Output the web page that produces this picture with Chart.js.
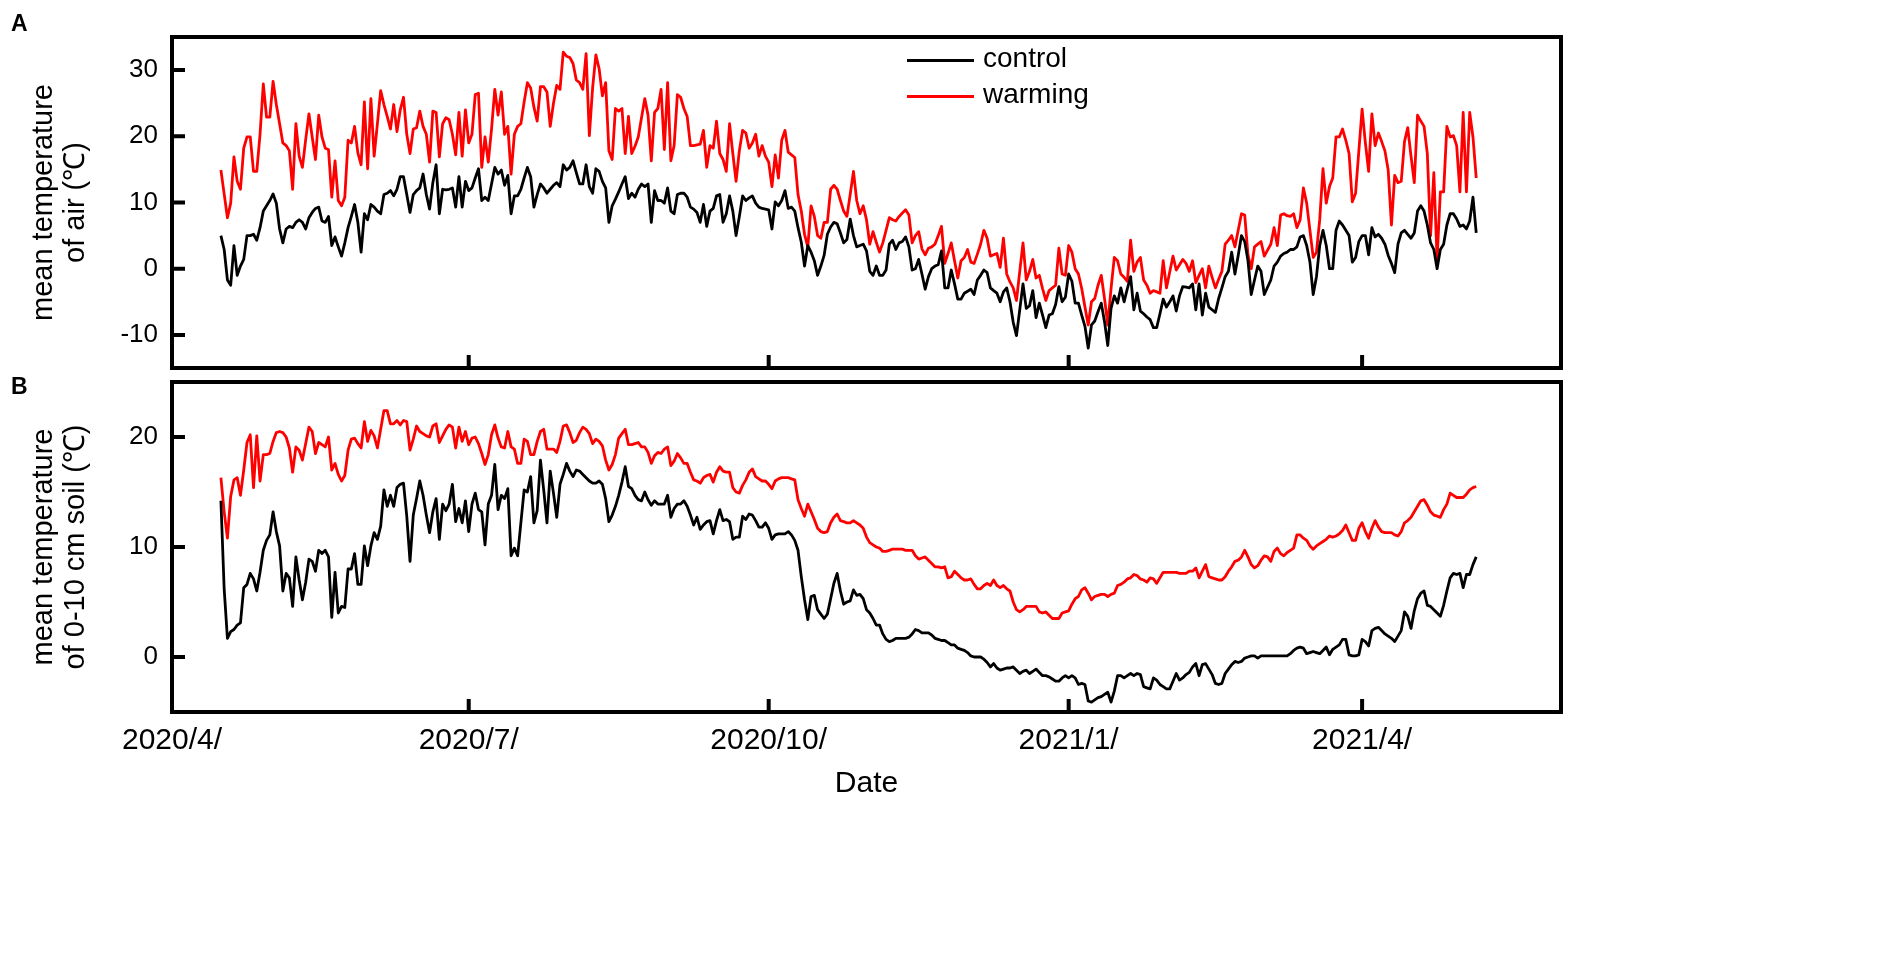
<!DOCTYPE html>
<html>
<head>
<meta charset="utf-8">
<script src="https://cdn.jsdelivr.net/npm/chart.js@4.4.1/dist/chart.umd.min.js"></script>
<style>
  body { margin: 0; background: #fff; width: 1904px; height: 971px; overflow: hidden;
         font-family: "Liberation Sans", Arial, sans-serif; color: #000; }
  canvas { position: absolute; left: 0; top: 0; }
  .tag { position: absolute; font-weight: bold; font-size: 23px; }
  .legend { position: absolute; left: 907px; font-size: 28px; }
  .legend span { position: absolute; left: 0; width: 67px; height: 3px; }
  .legend b { position: absolute; left: 76px; font-weight: normal; white-space: nowrap; }
</style>
</head>
<body>
<canvas id="airChart" width="1904" height="971"></canvas>
<canvas id="soilChart" width="1904" height="971"></canvas>

<div class="tag" style="left:11px;top:10px">A</div>
<div class="tag" style="left:11px;top:373px">B</div>

<div class="legend" style="top:59px"><span style="background:#000"></span><b style="top:-17px">control</b></div>
<div class="legend" style="top:95px"><span style="background:#f00"></span><b style="top:-17px">warming</b></div>

<script>
// ---------------------------------------------- data ----------------------------------------------
// days counted from 2020/4/1, one value per day, first value is day 15 (2020/4/16)
const firstDay = 15;

const xTicks = [0, 91, 183, 275, 365];
const xTickLabels = ['2020/4/', '2020/7/', '2020/10/', '2021/1/', '2021/4/'];
const airTicks = [-10, 0, 10, 20, 30];
const soilTicks = [0, 10, 20];

// mean temperature of air (℃)
const airControl = [
  5.0, 2.9, -1.7, -2.5, 3.5, -1.0, 0.4, 1.4, 5.0, 5.0,
  5.2, 4.3, 6.2, 8.7, 9.5, 10.3, 11.3, 9.9, 6.0, 3.9,
  6.0, 6.4, 6.2, 7.0, 7.4, 7.0, 6.0, 7.7, 8.5, 9.1,
  9.3, 7.2, 7.0, 7.9, 3.5, 4.8, 3.3, 1.9, 3.9, 6.2,
  7.9, 9.7, 7.0, 2.5, 8.3, 7.4, 9.7, 9.3, 8.7, 8.3,
  11.2, 11.4, 11.8, 11.0, 12.0, 13.9, 13.9, 11.2, 8.5, 11.2,
  11.8, 12.2, 14.3, 11.2, 9.0, 13.0, 15.7, 8.3, 12.0, 11.9,
  12.0, 12.2, 9.3, 13.9, 9.3, 13.2, 11.8, 12.2, 13.7, 15.1,
  10.3, 10.8, 10.3, 12.8, 15.3, 14.3, 14.9, 12.6, 14.1, 8.3,
  11.0, 11.0, 12.0, 13.7, 15.3, 13.9, 9.3, 11.2, 12.8, 12.2,
  11.4, 12.0, 12.6, 13.0, 12.4, 15.7, 14.9, 15.3, 16.3, 14.5,
  12.8, 12.8, 15.7, 12.4, 11.4, 15.1, 14.7, 13.2, 12.2, 7.0,
  9.5, 10.5, 11.6, 12.8, 13.9, 10.6, 11.4, 10.8, 12.0, 12.8,
  12.4, 12.8, 7.0, 11.8, 10.3, 10.3, 9.9, 12.2, 8.7, 8.3,
  11.2, 11.4, 11.4, 10.8, 9.3, 9.0, 8.5, 7.0, 9.7, 6.4,
  8.7, 9.1, 11.0, 11.2, 7.0, 8.3, 11.0, 8.7, 5.0, 7.9,
  11.0, 10.3, 10.7, 11.0, 9.9, 9.3, 9.1, 9.0, 8.9, 6.0,
  10.1, 9.5, 10.3, 11.8, 9.1, 9.3, 8.7, 6.2, 4.0, 0.4,
  3.5, 2.5, 1.2, -1.0, 0.4, 2.0, 5.2, 6.3, 7.0, 6.8,
  5.4, 3.9, 4.4, 7.5, 5.0, 3.3, 3.5, 3.7, 2.7, -0.4,
  -1.0, 0.4, -1.0, -1.0, -0.2, 3.7, 4.3, 2.9, 3.9, 4.1,
  4.8, 3.3, -0.2, 0.0, 1.4, -0.8, -3.1, -1.2, 0.0, 0.4,
  0.6, 2.7, -2.9, -2.9, -0.2, -2.3, -4.6, -4.6, -3.7, -3.4,
  -3.1, -3.9, -1.7, -1.0, -0.2, -0.6, -2.9, -3.3, -3.7, -5.0,
  -3.5, -2.9, -5.0, -8.1, -10.1, -6.2, -2.3, -6.0, -5.6, -3.3,
  -7.4, -5.2, -7.0, -8.9, -7.0, -6.8, -5.4, -2.7, -5.0, -4.3,
  -0.8, -1.9, -5.2, -5.2, -7.0, -8.7, -12.0, -8.5, -7.9, -6.5,
  -5.2, -8.0, -11.6, -6.0, -4.1, -5.2, -2.9, -5.0, -3.0, -1.2,
  -6.2, -3.7, -6.4, -6.8, -7.3, -7.7, -8.9, -8.9, -6.8, -4.6,
  -5.8, -5.0, -4.1, -6.4, -4.1, -2.7, -2.8, -2.9, -2.3, -6.2,
  -2.3, -7.0, -3.7, -5.8, -6.2, -6.6, -4.5, -2.9, -1.2, -0.4,
  2.5, -0.8, 2.0, 5.0, 4.1, 1.2, -3.9, -1.7, 0.4, -0.4,
  -3.9, -2.8, -1.7, 0.4, 1.0, 1.9, 2.3, 2.5, 2.9, 2.9,
  3.3, 4.8, 5.0, 3.5, 1.0, -3.9, -1.2, 3.5, 5.8, 3.5,
  0.0, 0.0, 5.8, 7.2, 6.6, 5.8, 5.0, 1.0, 1.7, 4.1,
  5.0, 5.0, 2.1, 6.2, 4.8, 5.2, 4.6, 3.7, 2.0, 0.8,
  -0.6, 3.7, 5.4, 5.8, 5.2, 4.6, 5.4, 8.7, 9.5, 8.7,
  6.6, 3.9, 2.9, 0.0, 2.9, 3.7, 6.6, 8.3, 8.3, 7.5,
  6.4, 6.6, 6.0, 7.2, 10.8, 5.4
];

const airWarming = [
  14.9, 11.3, 7.7, 9.9, 16.9, 13.2, 12.0, 18.2, 19.9, 19.9,
  14.7, 14.7, 20.3, 27.9, 22.9, 22.9, 28.3, 24.8, 21.9, 19.0,
  18.6, 17.8, 12.0, 21.9, 17.0, 15.3, 19.5, 23.4, 19.9, 16.5,
  23.2, 19.9, 18.2, 18.0, 10.8, 16.3, 10.3, 9.5, 10.8, 19.4,
  19.0, 21.5, 17.5, 15.7, 25.2, 15.1, 25.7, 17.0, 21.9, 26.9,
  24.8, 23.0, 21.1, 24.8, 20.7, 24.0, 25.9, 20.3, 17.4, 21.1,
  21.3, 23.8, 21.5, 20.3, 16.1, 23.8, 23.6, 16.9, 21.9, 22.8,
  22.5, 20.3, 17.2, 23.6, 17.0, 24.0, 19.0, 20.3, 26.3, 26.5,
  15.3, 19.9, 16.1, 21.1, 27.1, 23.2, 26.7, 20.3, 21.5, 14.3,
  20.3, 21.5, 21.9, 25.2, 28.1, 27.3, 24.4, 22.3, 27.5, 27.5,
  26.7, 21.5, 25.0, 27.7, 27.1, 32.7, 32.1, 31.9, 31.0, 28.5,
  28.1, 27.1, 32.5, 20.1, 27.3, 32.3, 30.2, 26.1, 28.1, 17.8,
  16.5, 24.2, 23.8, 24.2, 17.4, 23.0, 17.4, 18.5, 19.9, 22.8,
  25.7, 23.2, 16.3, 23.6, 24.2, 27.1, 18.0, 28.1, 16.3, 18.6,
  26.3, 25.9, 24.2, 23.0, 18.6, 18.6, 18.7, 18.8, 20.9, 15.3,
  18.6, 18.2, 22.3, 17.4, 16.5, 14.7, 21.9, 17.4, 13.2, 17.8,
  20.9, 20.5, 18.2, 19.0, 20.3, 17.0, 18.6, 17.0, 16.1, 12.4,
  17.2, 13.7, 19.4, 20.9, 17.6, 17.2, 16.8, 11.2, 8.7, 5.2,
  3.3, 9.5, 7.9, 5.0, 4.6, 7.0, 7.0, 12.0, 12.6, 12.0,
  10.3, 8.7, 7.9, 11.2, 14.7, 10.3, 8.3, 9.5, 7.4, 3.7,
  5.6, 4.0, 2.5, 3.9, 5.8, 7.7, 7.4, 7.2, 7.9, 8.4,
  8.9, 8.1, 3.9, 5.0, 5.6, 3.0, 2.1, 3.1, 3.3, 3.7,
  5.0, 6.4, 0.8, 2.3, 3.9, 1.2, -1.4, 1.2, 1.7, 2.9,
  1.0, 0.8, 2.2, 3.7, 5.8, 4.6, 1.9, 2.1, 2.3, 0.2,
  4.6, -0.8, -2.0, -2.9, -4.8, -0.4, 3.9, -1.7, -0.4, 1.4,
  -1.4, -1.0, -3.0, -4.8, -3.3, -2.9, -2.5, 3.1, -0.8, -1.0,
  3.5, 2.5, 0.0, -0.8, -3.0, -5.8, -8.5, -5.0, -4.5, -2.5,
  -1.0, -4.5, -8.5, -3.0, 1.7, 1.2, -0.8, -1.3, -1.9, 4.3,
  -0.4, 1.0, 1.7, -1.7, -2.5, -3.7, -3.3, -3.5, -3.7, 1.2,
  -2.9, -0.5, 1.9, -0.2, 0.6, 1.4, 0.8, -0.4, 1.2, -2.1,
  -1.0, 0.0, -2.9, 0.4, -1.3, -2.9, -1.6, -0.4, 3.7, 4.3,
  5.0, 3.3, 5.8, 8.3, 8.1, 2.1, 0.0, 3.3, 3.7, 4.1,
  1.9, 2.8, 3.7, 6.2, 3.5, 8.1, 8.3, 8.0, 7.9, 8.3,
  6.2, 7.4, 12.2, 9.9, 5.8, 1.7, 2.5, 7.4, 15.1, 9.9,
  12.4, 13.7, 19.9, 19.9, 21.1, 19.4, 17.4, 10.1, 11.4, 17.8,
  24.1, 19.0, 14.7, 23.4, 18.6, 20.5, 19.2, 17.8, 14.9, 6.6,
  14.1, 13.0, 13.2, 19.2, 21.3, 17.0, 13.0, 23.2, 22.3, 21.5,
  17.4, 5.0, 14.5, 1.4, 11.6, 11.6, 21.5, 19.9, 20.1, 18.6,
  11.6, 23.6, 11.6, 23.6, 19.9, 13.7
];

// mean temperature of 0-10 cm soil (℃)
const soilControl = [
  14.2, 6.2, 1.7, 2.3, 2.5, 2.9, 3.1, 6.3, 6.6, 7.6,
  7.1, 6.0, 7.7, 9.7, 10.6, 11.1, 13.2, 11.4, 10.1, 6.0,
  7.6, 7.2, 4.6, 9.1, 7.0, 5.2, 6.8, 8.9, 8.7, 7.8,
  9.7, 9.4, 9.7, 9.1, 3.6, 7.7, 4.0, 4.6, 4.5, 8.0,
  8.0, 9.4, 6.6, 6.6, 10.1, 8.3, 10.1, 11.3, 10.7, 11.9,
  15.2, 13.7, 14.7, 13.7, 15.4, 15.7, 15.8, 12.8, 8.7, 12.9,
  14.4, 16.0, 14.7, 12.9, 11.3, 13.2, 14.4, 10.7, 13.9, 13.3,
  13.9, 15.7, 12.3, 13.5, 12.2, 14.2, 11.4, 13.9, 14.9, 13.4,
  13.2, 10.2, 13.9, 14.7, 17.5, 13.4, 14.7, 14.4, 15.3, 9.2,
  9.9, 9.2, 12.2, 15.2, 15.0, 16.4, 12.2, 13.3, 17.9, 15.2,
  12.2, 16.9, 14.9, 12.7, 15.7, 16.6, 17.6, 16.9, 16.4, 17.0,
  16.9, 16.6, 16.3, 16.0, 15.8, 15.8, 16.0, 15.7, 14.4, 12.3,
  12.9, 13.7, 14.7, 15.9, 17.3, 15.5, 15.3, 14.7, 14.3, 14.2,
  15.0, 14.3, 13.8, 14.2, 13.9, 13.9, 13.9, 14.7, 12.7, 13.5,
  13.9, 13.9, 14.2, 13.7, 12.9, 12.0, 12.7, 11.6, 12.0, 12.3,
  12.4, 11.2, 12.4, 13.4, 12.4, 12.5, 12.3, 10.7, 10.9, 10.9,
  12.8, 12.5, 13.0, 12.9, 12.4, 11.8, 11.8, 12.2, 11.7, 10.7,
  11.1, 11.2, 11.2, 11.2, 11.4, 11.1, 10.6, 9.7, 7.3, 5.2,
  3.4, 5.5, 5.6, 4.3, 3.9, 3.5, 3.9, 5.3, 6.7, 7.6,
  6.0, 4.8, 5.0, 5.1, 6.1, 5.6, 5.7, 5.3, 4.3, 4.0,
  3.5, 2.9, 2.9, 2.1, 1.6, 1.4, 1.5, 1.7, 1.7, 1.7,
  1.7, 1.8, 2.1, 2.5, 2.4, 2.2, 2.2, 2.2, 2.0, 1.7,
  1.6, 1.5, 1.5, 1.3, 1.1, 1.1, 0.8, 0.7, 0.6, 0.4,
  0.1, 0.0, 0.0, 0.0, -0.2, -0.5, -0.9, -0.6, -1.0, -1.2,
  -1.1, -1.0, -1.0, -0.9, -1.2, -1.5, -1.3, -1.2, -1.5, -1.3,
  -1.1, -1.4, -1.7, -1.7, -1.8, -2.0, -2.2, -2.2, -1.9, -1.7,
  -1.9, -1.7, -1.9, -2.5, -2.4, -2.5, -4.0, -4.1, -3.9, -3.7,
  -3.6, -3.4, -3.2, -4.1, -3.1, -1.7, -1.7, -1.9, -1.7, -1.5,
  -1.7, -1.5, -1.6, -2.7, -2.8, -2.9, -1.9, -2.1, -2.5, -2.7,
  -2.9, -2.9, -2.2, -1.5, -2.1, -1.9, -1.6, -1.4, -0.9, -0.6,
  -1.7, -0.7, -0.6, -1.1, -1.6, -2.4, -2.5, -2.4, -1.5, -1.1,
  -0.7, -0.4, -0.5, -0.4, -0.1, 0.0, 0.1, 0.1, -0.1, 0.1,
  0.1, 0.1, 0.1, 0.1, 0.1, 0.1, 0.1, 0.1, 0.3, 0.6,
  0.8, 0.9, 0.8, 0.3, 0.4, 0.5, 0.4, 0.3, 0.6, 0.9,
  0.2, 0.7, 0.9, 1.1, 1.6, 1.6, 0.2, 0.1, 0.1, 0.2,
  1.6, 1.4, 1.0, 2.4, 2.6, 2.7, 2.4, 2.1, 1.9, 1.7,
  1.4, 1.9, 2.4, 4.1, 3.7, 2.6, 4.2, 5.3, 5.8, 6.0,
  4.7, 4.6, 4.3, 4.0, 3.7, 4.7, 6.0, 7.2, 7.6, 7.5,
  7.6, 6.3, 7.5, 7.5, 8.4, 9.1
];

const soilWarming = [
  16.3, 13.2, 10.8, 14.6, 16.1, 16.3, 14.7, 17.0, 19.5, 20.2,
  15.4, 20.1, 16.0, 18.4, 18.4, 18.5, 19.6, 20.4, 20.5, 20.4,
  20.0, 19.0, 16.8, 19.1, 18.8, 17.9, 19.4, 20.9, 20.5, 18.5,
  19.5, 19.3, 19.1, 20.0, 17.0, 17.6, 16.6, 16.0, 16.5, 18.8,
  19.8, 19.9, 19.4, 19.0, 21.4, 19.6, 20.6, 20.1, 19.0, 20.7,
  22.4, 22.4, 21.2, 21.2, 21.5, 21.1, 21.5, 21.4, 18.8, 19.8,
  21.0, 20.5, 20.3, 20.1, 20.0, 21.0, 21.2, 19.5, 20.1, 20.7,
  21.1, 20.9, 19.0, 20.9, 19.6, 20.5, 19.3, 19.9, 20.0, 19.4,
  18.5, 17.5, 18.4, 20.2, 21.1, 19.9, 19.1, 19.0, 20.5, 19.1,
  18.9, 17.6, 17.6, 19.8, 19.6, 18.4, 18.4, 19.6, 20.5, 20.7,
  18.9, 18.9, 18.9, 18.6, 19.6, 21.0, 21.1, 20.4, 19.5, 19.7,
  20.4, 20.9, 20.7, 20.3, 19.4, 19.8, 19.6, 19.2, 17.9, 17.0,
  17.5, 18.4, 19.9, 20.3, 20.7, 19.3, 19.3, 19.4, 19.5, 19.1,
  19.1, 18.6, 17.6, 18.3, 18.6, 18.5, 18.9, 19.1, 17.4, 17.8,
  18.5, 18.1, 17.6, 17.6, 16.8, 16.1, 16.0, 15.8, 16.3, 16.5,
  16.6, 15.9, 16.8, 17.3, 16.9, 16.8, 16.8, 15.4, 15.0, 14.9,
  15.6, 16.1, 16.8, 17.1, 16.4, 16.2, 16.0, 16.0, 15.7, 15.3,
  16.0, 16.2, 16.3, 16.3, 16.3, 16.2, 16.1, 14.3, 13.5, 12.8,
  13.9, 13.2, 12.5, 11.7, 11.4, 11.3, 11.4, 12.2, 12.7, 13.0,
  12.4, 12.3, 12.2, 12.2, 12.4, 12.2, 12.0, 11.7, 10.9, 10.4,
  10.2, 10.0, 9.9, 9.6, 9.6, 9.7, 9.8, 9.8, 9.8, 9.8,
  9.7, 9.7, 9.7, 9.2, 8.9, 9.0, 9.1, 8.8, 8.5, 8.2,
  8.2, 8.1, 8.2, 7.2, 7.3, 7.8, 7.5, 7.2, 7.0, 7.0,
  7.1, 6.6, 6.2, 6.2, 6.5, 6.7, 6.5, 7.0, 6.5, 6.3,
  6.5, 6.2, 6.0, 5.0, 4.3, 4.1, 4.3, 4.6, 4.6, 4.6,
  4.6, 4.1, 4.0, 4.1, 3.8, 3.5, 3.5, 3.5, 4.0, 4.1,
  4.2, 4.8, 5.3, 5.5, 6.1, 6.3, 5.8, 5.2, 5.5, 5.6,
  5.7, 5.7, 5.5, 5.7, 5.8, 6.5, 6.6, 6.8, 7.1, 7.2,
  7.5, 7.4, 7.1, 7.0, 6.8, 7.2, 7.1, 6.7, 7.2, 7.7,
  7.7, 7.7, 7.7, 7.7, 7.6, 7.6, 7.6, 7.8, 7.8, 8.1,
  7.2, 7.8, 8.4, 7.3, 7.2, 7.1, 7.0, 7.0, 7.3, 7.8,
  8.2, 8.7, 8.8, 9.1, 9.7, 9.1, 8.4, 8.1, 8.3, 8.8,
  9.2, 9.1, 8.7, 9.6, 9.9, 9.4, 9.2, 9.5, 9.7, 9.9,
  11.1, 11.1, 10.8, 10.6, 10.1, 9.8, 10.1, 10.3, 10.5, 10.7,
  11.0, 10.9, 11.0, 11.2, 11.5, 12.0, 11.3, 10.6, 10.6, 11.7,
  12.2, 11.4, 10.8, 11.7, 12.4, 11.8, 11.4, 11.3, 11.3, 11.3,
  11.1, 11.0, 11.4, 12.2, 12.4, 12.7, 13.2, 13.7, 14.2, 14.3,
  13.8, 13.2, 12.9, 12.8, 12.7, 13.4, 13.9, 14.9, 14.7, 14.5,
  14.5, 14.5, 14.8, 15.2, 15.4, 15.5
];

// ---------------------------------------------- charts ----------------------------------------------

Chart.defaults.font.family = '"Liberation Sans", Arial, sans-serif';
Chart.defaults.color = '#000';

const toPoints = values => values.map((v, i) => ({ x: firstDay + i, y: v }));

// box round the plot with the tick marks pointing inwards
const frameTicks = {
    id: 'frameTicks',
    afterDraw(chart) {
        const { ctx, chartArea: a, scales: { x, y } } = chart;
        ctx.save();
        ctx.strokeStyle = '#000';
        ctx.lineWidth = 4;
        ctx.beginPath();
        xTicks.forEach(d => {
            const px = x.getPixelForValue(d);
            ctx.moveTo(px, a.bottom);
            ctx.lineTo(px, a.bottom - 13);
        });
        y.ticks.forEach(t => {
            const py = y.getPixelForValue(t.value);
            ctx.moveTo(a.left, py);
            ctx.lineTo(a.left + 13, py);
        });
        ctx.stroke();
        ctx.strokeRect(a.left, a.top, a.right - a.left, a.bottom - a.top);
        ctx.restore();
    }
};

function makeChart(id, opts) {
    return new Chart(document.getElementById(id), {
        type: 'line',
        data: {
            datasets: [
                { label: 'control', data: toPoints(opts.control), borderColor: '#000' },
                { label: 'warming', data: toPoints(opts.warming), borderColor: '#ff0000' }
            ]
        },
        options: {
            responsive: false,
            animation: false,
            devicePixelRatio: 1,
            layout: { padding: opts.padding },
            elements: {
                point: { radius: 0 },
                line: { borderWidth: 2.8, tension: 0, borderJoinStyle: 'round' }
            },
            plugins: { legend: { display: false }, tooltip: { enabled: false } },
            scales: {
                x: {
                    type: 'linear',
                    min: 0,
                    max: 426,
                    afterFit: s => { s.height = opts.xHeight; },
                    afterBuildTicks: s => { s.ticks = xTicks.map(v => ({ value: v })); },
                    grid: { display: false, drawTicks: false },
                    border: { display: false },
                    ticks: {
                        display: opts.showDates,
                        autoSkip: false,
                        maxRotation: 0,
                        minRotation: 0,
                        padding: 11,
                        font: { size: 30 },
                        callback: (v, i) => xTickLabels[i]
                    },
                    title: {
                        display: opts.showDates,
                        text: 'Date',
                        font: { size: 30 },
                        padding: { top: 0, bottom: 0 }
                    }
                },
                y: {
                    min: opts.yMin,
                    max: opts.yMax,
                    afterFit: s => { s.width = 172; },
                    afterBuildTicks: s => { s.ticks = opts.yTicks.map(v => ({ value: v })); },
                    grid: { display: false, drawTicks: false },
                    border: { display: false },
                    ticks: { padding: 14, font: { size: 26 } },
                    title: {
                        display: true,
                        text: opts.yTitle,
                        font: { size: 29, lineHeight: 1.1 },
                        padding: { top: 28 }
                    }
                }
            }
        },
        plugins: [frameTicks]
    });
}

makeChart('airChart', {
    control: airControl,
    warming: airWarming,
    yMin: -15, yMax: 35, yTicks: airTicks,
    yTitle: ['mean temperature', 'of air (℃)'],
    showDates: false,
    xHeight: 10,
    padding: { left: 0, top: 37, right: 343, bottom: 593 }
});

makeChart('soilChart', {
    control: soilControl,
    warming: soilWarming,
    yMin: -5, yMax: 25, yTicks: soilTicks,
    yTitle: ['mean temperature', 'of 0-10 cm soil (℃)'],
    showDates: true,
    xHeight: 90,
    padding: { left: 0, top: 382, right: 343, bottom: 169 }
});
</script>
</body>
</html>
